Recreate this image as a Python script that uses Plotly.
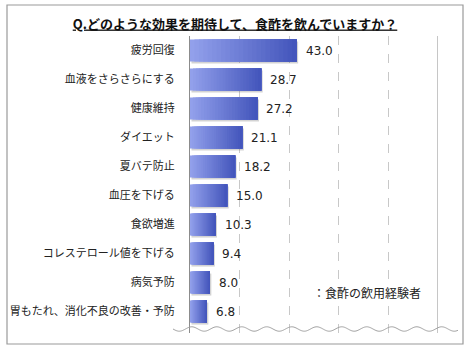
import numpy as np
import plotly.graph_objects as go

categories = ["疲労回復", "血液をさらさらにする", "健康維持", "ダイエット", "夏バテ防止",
              "血圧を下げる", "食欲増進", "コレステロール値を下げる", "病気予防",
              "胃もたれ、消化不良の改善・予防"]
values = [43.0, 28.7, 27.2, 21.1, 18.2, 15.0, 10.3, 9.4, 8.0, 6.8]
value_labels = ["43.0", "28.7", "27.2", "21.1", "18.2", "15.0", "10.3", "9.4", "8.0", "6.8"]
title_text = "Q.どのような効果を期待して、食酢を飲んでいますか？"
legend_text = "：食酢の飲用経験者"

W, H = 470, 350
L, R, T, B = 190, 438, 36, 333
def px_x(p): return (p - L) / (R - L)
def px_y(p): return (B - p) / (B - T)

ypos = list(range(len(categories)))
fig = go.Figure()

# shadow
fig.add_trace(go.Bar(
    y=ypos, x=values, base=0.6, orientation="h", width=0.76, offset=-0.38 + 0.07,
    marker=dict(color="rgba(110,110,110,0.30)", line=dict(width=0)),
    hoverinfo="skip", showlegend=False))

# gradient bars: successive overlapping bars, each covering from its start to the bar end
N = 24
c0 = np.array([146, 160, 235])
c1 = np.array([68, 86, 188])
for i in range(N):
    t = i / (N - 1)
    c = (c0 * (1 - t) + c1 * t).round().astype(int)
    base = [v * i / N for v in values]
    fig.add_trace(go.Bar(
        y=ypos, x=[v - b for v, b in zip(values, base)], base=base, orientation="h", width=0.76,
        marker=dict(color=f"rgb({c[0]},{c[1]},{c[2]})", line=dict(width=0)),
        hoverinfo="skip", showlegend=False))

for v, lab, y in zip(values, value_labels, ypos):
    fig.add_annotation(x=v, y=y, xref="x", yref="y", text=lab, showarrow=False,
                       xanchor="left", xshift=7, yshift=0,
                       font=dict(family="DejaVu Sans", size=12, color="#222222"))

fig.add_annotation(x=px_x(311), y=px_y(292), xref="paper", yref="paper",
                   text=legend_text, showarrow=False, xanchor="left", yanchor="middle",
                   font=dict(family="Noto Sans CJK JP", size=12, color="#222222"))

# right border line of plot
fig.add_shape(type="line", xref="x", yref="paper", x0=100, x1=100, y0=0, y1=1,
              line=dict(color="#8c8c8c", width=1))

# wavy line
xs = np.linspace(173, 458, 300)
ys = 329 + 2.2 * np.sin((xs - 173) / 25.0 * 2 * np.pi)
path = "M " + " L ".join(f"{px_x(a):.4f},{px_y(b):.4f}" for a, b in zip(xs, ys))
fig.add_shape(type="path", xref="paper", yref="paper", path=path,
              line=dict(color="#a0a0a0", width=1))

# outer frame
fig.add_shape(type="rect", xref="paper", yref="paper",
              x0=px_x(7), x1=px_x(463), y0=px_y(344), y1=px_y(5),
              line=dict(color="#9a9a9a", width=1.2), fillcolor="rgba(0,0,0,0)")

fig.update_layout(
    width=W, height=H, barmode="overlay",
    margin=dict(l=L, r=W - R, t=T, b=H - B, pad=0, autoexpand=False),
    paper_bgcolor="white", plot_bgcolor="white",
    title=dict(text=f"<b><u>{title_text}</u></b>", x=0.5, xref="container",
               y=1 - 24 / H, yref="container", yanchor="middle", xanchor="center",
               font=dict(family="Noto Sans CJK JP", size=13, color="#111111")),
    xaxis=dict(range=[0, 100], tickvals=[20, 40, 60, 80], showticklabels=False,
               showgrid=True, gridcolor="#c8c8c8", griddash="dash", gridwidth=1,
               zeroline=False, showline=False, ticks="", automargin=False),
    yaxis=dict(range=[9.74, -0.5], tickvals=ypos, ticktext=categories,
               showgrid=False, zeroline=False, showline=True, linecolor="#8c8c8c",
               linewidth=1, ticks="", ticklabelstandoff=12, automargin=False,
               tickfont=dict(family="Noto Sans CJK JP", size=11, color="#222222")),
)

fig.write_html("out.html")
